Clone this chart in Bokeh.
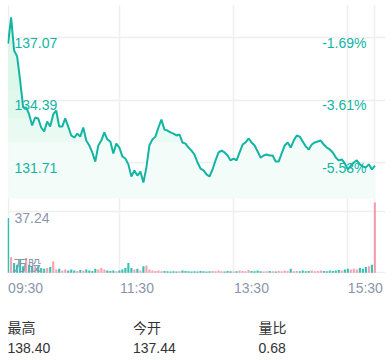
import numpy as np
from bokeh.plotting import figure
from bokeh.models import Range1d, Label, FixedTicker, Grid, ColumnDataSource
from bokeh.core.properties import value
from bokeh.layouts import column
from bokeh.embed import file_html
from bokeh.resources import INLINE

# ---------------- data ----------------
prices = [
    136.81, 137.93, 136.51, 136.26, 135.23, 134.07, 134.07, 133.77, 133.30, 133.64,
    133.60, 133.21, 133.04, 133.47, 133.25, 133.77, 133.94, 133.25, 133.25, 133.60,
    133.25, 132.87, 132.78, 132.95, 132.82, 133.21, 132.65, 132.44, 132.14, 131.75,
    132.44, 132.65, 133.00, 132.70, 132.61, 132.10, 132.52, 132.35, 131.97, 131.88,
    131.63, 131.11, 131.37, 131.15, 131.32, 130.85, 131.50, 132.44, 132.70, 132.82,
    133.21, 133.55, 133.12, 133.08, 133.00, 132.95, 132.87, 132.91, 132.57, 132.52,
    132.35, 132.22, 132.05, 131.71, 131.45, 131.37, 131.20, 131.11, 131.41, 131.80,
    132.14, 132.22, 132.14, 132.01, 131.80, 131.88, 131.80, 132.14, 132.48, 132.57,
    132.74, 132.57, 132.44, 132.18, 131.92, 132.01, 132.05, 132.01, 132.01, 131.75,
    131.75, 132.10, 132.44, 132.57, 132.35, 132.65, 132.87, 132.82, 132.61, 132.40,
    132.27, 132.48, 132.57, 132.61, 132.65, 132.48, 132.35, 132.27, 132.14, 131.92,
    131.80, 131.84, 131.67, 131.41, 131.58, 131.71, 131.80, 131.63, 131.54, 131.50,
    131.63, 131.41, 131.58,
]
volumes = [
    33.5, 9.5, 6.0, 5.0, 8.0, 4.0, 9.0, 5.0, 4.0, 3.0,
    4.0, 3.0, 2.5, 3.0, 3.5, 7.0, 2.0, 2.5, 1.5, 2.0,
    1.5, 2.0, 1.5, 1.2, 1.8, 1.5, 2.0, 1.5, 1.2, 2.5,
    2.0, 3.0, 2.0, 1.5, 1.2, 1.5, 1.0, 1.5, 2.0, 3.0,
    6.0, 3.0, 2.0, 2.5, 1.5, 4.0, 4.5, 2.0, 1.5, 1.2,
    1.5, 1.0, 1.2, 1.0, 0.8, 1.0, 0.8, 1.0, 1.5, 1.2,
    1.0, 0.8, 1.0, 0.8, 1.2, 1.0, 0.8, 1.0, 1.2, 1.0,
    1.5, 1.0, 0.8, 1.2, 1.0, 0.8, 1.0, 1.5, 1.2, 1.0,
    1.8, 1.2, 1.0, 1.5, 1.0, 0.8, 1.0, 1.2, 1.0, 0.8,
    1.2, 1.0, 1.5, 1.2, 2.5, 1.0, 1.2, 1.0, 1.5, 1.0,
    1.2, 1.5, 1.0, 1.2, 1.5, 1.2, 1.0, 1.5, 1.2, 1.5,
    1.8, 1.5, 2.0, 2.5, 2.0, 2.5, 2.0, 3.0, 2.5, 3.5,
    4.0, 5.0, 43.0,
]
open_price = 137.44
price_ticks = [137.07, 134.39, 131.71]
pct_labels = ["-1.69%", "-3.61%", "-5.53%"]
vol_tick = 37.24
vol_unit = "万股"
time_ticks = [0, 37.2, 75.1, 113.0]
time_labels = ["09:30", "11:30", "13:30", "15:30"]
stat_names = ["最高", "今开", "量比"]
stat_values = ["138.40", "137.44", "0.68"]

assert len(prices) == len(volumes)
N = len(prices)
idx = np.arange(N)

# ---------------- styling / layout ----------------
FONT = "Liberation Sans, Noto Sans CJK SC"
TEAL = "#12b5a4"
PINK = "#f7798e"
GRID = "#efefef"
GRAY = "#8c96ab"
W = 392
LPAD, RPAD, TPAD = 7, 7, 4
MAIN_H = 273
FRAME_H = MAIN_H - TPAD
FRAME_W = W - LPAD - RPAD          # 378 px frame (text room on the right)
DATA_W = 368                       # px used by the series

x0 = -0.2
x_last = N - 1 + 0.2
px_per_x = DATA_W / (x_last - x0)
x_end = x0 + FRAME_W / px_per_x

k = 2.68 / 62.5                     # price per pixel
p_end = price_ticks[0] + (37 - TPAD) * k
p_start = p_end - FRAME_H * k
v_per_px = vol_tick / 61.0
fill_floor = p_end - (198 - TPAD) * k


def base_fig(height, xr, yr, top=0):
    f = figure(width=W, height=height, output_backend="svg", toolbar_location=None,
               x_range=xr, y_range=yr, x_axis_location=None, y_axis_location=None,
               min_border_left=LPAD, min_border_right=RPAD, min_border_top=top,
               min_border_bottom=0)
    f.outline_line_color = None
    f.grid.visible = False
    return f


p = base_fig(MAIN_H, Range1d(x0, x_end), Range1d(p_start, p_end), top=TPAD)
p.extra_y_ranges = {"vol": Range1d(-0.4, -0.4 + FRAME_H * v_per_px)}

p.add_layout(Grid(dimension=0, ticker=FixedTicker(ticks=time_ticks + [N - 1]),
                  grid_line_color=GRID, grid_line_width=1.5))
p.add_layout(Grid(dimension=1, ticker=FixedTicker(ticks=price_ticks),
                  grid_line_color=GRID, grid_line_width=1.5, bounds=(x0, x_last)))
p.add_layout(Grid(dimension=1, ticker=FixedTicker(ticks=[0, vol_tick]), y_range_name="vol",
                  grid_line_color=GRID, grid_line_width=1.5, bounds=(x0, x_last)))

pr = np.array(prices)
# faded area (layered to mimic a gradient)
p.varea(x=idx, y1=pr, y2=np.full(N, fill_floor), fill_color="#f3fcf8", fill_alpha=1.0)
for lvl in (132.6, 133.6, 134.8):
    p.varea(x=idx, y1=pr, y2=np.minimum(pr, lvl), fill_color="#d5f6e6", fill_alpha=0.35)

# price tick labels (under the line)
p.text(x=[x0] * len(price_ticks), y=price_ticks, text=[f"{t:.2f}" for t in price_ticks],
       x_offset=7, y_offset=5, text_font=value(FONT), text_font_size="14px",
       text_color=TEAL, text_align="left", text_baseline="middle")
p.text(x=[x_last] * len(price_ticks), y=price_ticks, text=pct_labels,
       x_offset=-9, y_offset=5, text_font=value(FONT), text_font_size="14px",
       text_color=TEAL, text_align="right", text_baseline="middle")

p.line(x=idx, y=pr, line_color=TEAL, line_width=2)

# volume bars
prev = np.concatenate([[open_price], pr[:-1]])
colors = [PINK if c >= q else TEAL for c, q in zip(pr, prev)]
alphas = [0.7 if c == PINK else 0.85 for c in colors]
vsrc = ColumnDataSource(dict(x=idx, top=volumes, color=colors, alpha=alphas))
p.vbar(x="x", top="top", bottom=0, width=0.7, source=vsrc, y_range_name="vol",
       fill_color="color", line_color=None, fill_alpha="alpha")

p.add_layout(Label(x=x0, y=vol_tick, y_range_name="vol", text=f"{vol_tick:.2f}", x_offset=7,
                   y_offset=-1, text_font=FONT, text_font_size="14px", text_color=GRAY,
                   text_align="left", text_baseline="top"))
p.add_layout(Label(x=x0, y=0, y_range_name="vol", text=vol_unit, x_offset=6, y_offset=0,
                   text_font=FONT, text_font_size="14px", text_color=GRAY,
                   text_align="left", text_baseline="bottom"))

# time labels row (same x scale as the main frame)
t = base_fig(24, Range1d(x0, x_end), Range1d(0, 1))
for tk, tl in zip(time_ticks, time_labels):
    t.add_layout(Label(x=tk, y=0.5, text=tl, y_offset=-2, text_font=FONT,
                       text_font_size="14px", text_color=GRAY,
                       text_align="left", text_baseline="middle"))

# stats row
col_px = 125.5
s = base_fig(60, Range1d(0, FRAME_W / col_px), Range1d(-0.475, 2.525))
for i, (nm, vl) in enumerate(zip(stat_names, stat_values)):
    s.add_layout(Label(x=i, y=1, text=nm, text_font=FONT, text_font_size="14px",
                       text_color="#333333", text_align="left", text_baseline="middle"))
    s.add_layout(Label(x=i, y=0, text=vl, text_font=FONT, text_font_size="14px",
                       text_color="#333333", text_align="left", text_baseline="middle"))

layout = column(p, t, s, spacing=0)
open("out.html", "w").write(file_html(layout, INLINE))
